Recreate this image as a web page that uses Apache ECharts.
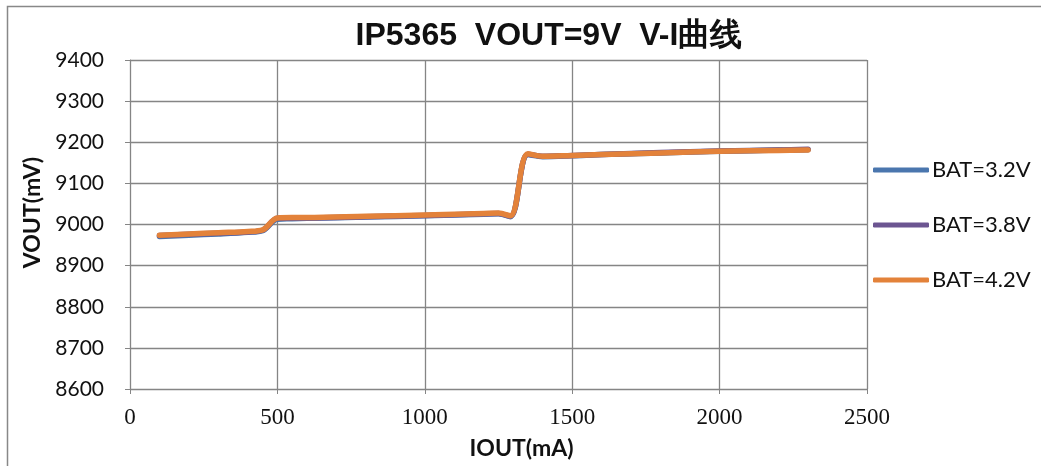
<!DOCTYPE html>
<html>
<head>
<meta charset="utf-8">
<style>html,body{margin:0;padding:0;background:#fff}#c{width:1041px;height:466px}</style>
<script src="https://cdn.jsdelivr.net/npm/echarts@6/dist/echarts.min.js"></script>
</head>
<body>
<div id="c"></div>
<script>
const titleText = 'IP5365  VOUT=9V  V-I曲线';
const iout = [100, 200, 300, 400, 450, 500, 550, 600, 800, 1000, 1200, 1250, 1290, 1350, 1400, 1500, 1600, 1800, 2000, 2200, 2300];
const bat32 = [8971, 8974, 8977, 8981, 8985, 9013, 9014, 9015, 9018, 9021, 9025, 9026, 9019, 9170, 9165, 9167, 9170, 9174, 9178, 9181, 9182];
const bat38 = [8973, 8976, 8979, 8982, 8986, 9015, 9016, 9016, 9019, 9022, 9026, 9027, 9020, 9171, 9166, 9168, 9170, 9175, 9179, 9181, 9183];
const bat42 = [8974, 8977, 8980, 8983, 8987, 9016, 9017, 9017, 9020, 9023, 9027, 9028, 9021, 9172, 9166, 9168, 9170, 9174, 9178, 9180, 9181];
const seriesNames = ['BAT=3.2V', 'BAT=3.8V', 'BAT=4.2V'];
const colors = ['#4A76AE', '#6C5591', '#E3823A'];

const pairs = arr => iout.map((x, i) => [x, arr[i]]);
const chart = echarts.init(document.getElementById('c'));
chart.setOption({
  animation: false,
  color: colors,
  grid: {left: 130, top: 60, width: 737, height: 329, containLabel: false},
  legend: {
    orient: 'vertical', left: 868, top: 154, itemGap: 33, itemWidth: 56, itemHeight: 5,
    icon: 'roundRect',
    textStyle: {fontFamily: 'Lato', fontSize: 22, color: '#111', padding: [0, 0, 0, -2]},
    data: seriesNames
  },
  xAxis: {
    type: 'value', min: 0, max: 2500, interval: 500,
    name: 'IOUT(mA)', nameLocation: 'middle', nameGap: 48,
    nameTextStyle: {fontFamily: 'Lato', fontWeight: 'bold', fontSize: 23, color: '#111', padding: [0, 0, 0, 46]},
    axisLine: {show: true, lineStyle: {color: '#858585', width: 1}},
    axisTick: {show: true, length: 5, lineStyle: {color: '#858585'}},
    axisLabel: {fontFamily: 'Liberation Serif', fontSize: 23, color: '#111', margin: 17, formatter: v => String(v)},
    splitLine: {show: true, lineStyle: {color: '#858585', width: 1.3}}
  },
  yAxis: {
    type: 'value', min: 8600, max: 9400, interval: 100,
    name: 'VOUT(mV)', nameLocation: 'middle', nameGap: 86, nameRotate: 90,
    nameTextStyle: {fontFamily: 'Lato', fontWeight: 'bold', fontSize: 23, color: '#111', padding: [0, 0, 0, 24]},
    axisLine: {show: true, lineStyle: {color: '#858585', width: 1}},
    axisTick: {show: true, length: 5, lineStyle: {color: '#858585'}},
    axisLabel: {fontFamily: 'Lato', fontSize: 21, color: '#111', margin: 26, formatter: v => String(v)},
    splitLine: {show: true, lineStyle: {color: '#858585', width: 1.3}}
  },
  graphic: [{
    type: 'rect', shape: {x: 7.5, y: 6.5, width: 1100, height: 500},
    style: {fill: 'none', stroke: '#888', lineWidth: 1.5}, silent: true, z: -10
  }, {
    type: 'text', x: 549, y: 36, silent: true,
    style: {
      text: titleText, fontFamily: 'Liberation Sans', fontWeight: 'bold', fontSize: 32,
      fill: '#111', align: 'center', verticalAlign: 'middle'
    }
  }],
  series: [bat32, bat38, bat42].map((arr, i) => ({
    name: seriesNames[i], type: 'line', data: pairs(arr), smooth: 0.35,
    showSymbol: false, symbol: 'none',
    lineStyle: {width: 5.5, color: colors[i], cap: 'round', join: 'round'}
  }))
});
</script>
</body>
</html>
